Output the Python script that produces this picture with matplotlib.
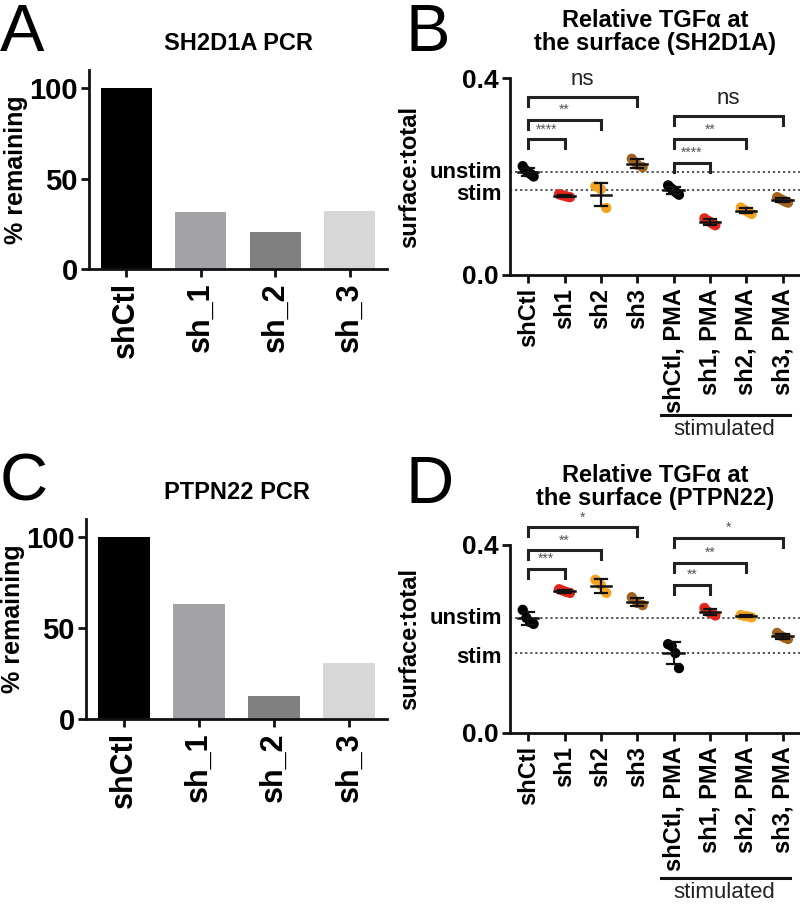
import matplotlib
matplotlib.use("Agg")
import matplotlib.pyplot as plt
import matplotlib.transforms as mtransforms
import numpy as np

plt.rcParams["font.family"] = ["Liberation Sans", "DejaVu Sans"]

W, H = 800, 907

# PCR knockdown (% remaining)
pcr_labels = ["shCtl", "sh_1", "sh_2", "sh_3"]
sh2d1a_pcr = [100, 31.5, 20.5, 32]
ptpn22_pcr = [100, 63, 12.5, 31]

# surface:total per condition, one list of replicate points per group
surface_labels = ["shCtl", "sh1", "sh2", "sh3",
                  "shCtl, PMA", "sh1, PMA", "sh2, PMA", "sh3, PMA"]
sh2d1a_surface = [
    [0.221, 0.214, 0.210, 0.207, 0.204, 0.200],
    [0.164, 0.162, 0.161, 0.159, 0.158],
    [0.180, 0.174, 0.136],
    [0.236, 0.224, 0.219],
    [0.182, 0.178, 0.175, 0.172, 0.169, 0.166, 0.163],
    [0.115, 0.111, 0.108, 0.104, 0.101],
    [0.137, 0.133, 0.130, 0.127, 0.124],
    [0.158, 0.155, 0.152, 0.149, 0.147],
]
ptpn22_surface = [
    [0.262, 0.245, 0.236, 0.232],
    [0.306, 0.303, 0.300, 0.298],
    [0.326, 0.315, 0.298],
    [0.289, 0.277, 0.272],
    [0.189, 0.185, 0.170, 0.138],
    [0.266, 0.258, 0.254, 0.250],
    [0.251, 0.249, 0.248, 0.246],
    [0.213, 0.207, 0.203, 0.200],
]

# comparisons: (group a, group b, bracket height, label)
sh2d1a_tests = [(0, 1, 0.276, "****"), (0, 2, 0.315, "**"), (0, 3, 0.362, "ns"),
                (4, 5, 0.228, "****"), (4, 6, 0.276, "**"), (4, 7, 0.323, "ns")]
ptpn22_tests = [(0, 1, 0.349, "***"), (0, 2, 0.389, "**"), (0, 3, 0.438, "*"),
                (4, 5, 0.315, "**"), (4, 6, 0.362, "**"), (4, 7, 0.415, "*")]

bar_colors = ["#000000", "#a3a3a7", "#808080", "#d7d7d7"]
dot_colors = ["#000000", "#e3261c", "#f4a321", "#a3621d"] * 2
LW = 2.0


def add_axes_px(fig, left, top, right, bottom):
    return fig.add_axes([left / W, 1 - bottom / H, (right - left) / W, (bottom - top) / H])


def style_axes(ax):
    for side in ["top", "right"]:
        ax.spines[side].set_visible(False)
    for side in ["left", "bottom"]:
        ax.spines[side].set_linewidth(LW)
        ax.spines[side].set_color("#111111")
    ax.tick_params(width=LW, length=6, color="#111111", labelsize=17)
    for lab in ax.get_xticklabels() + ax.get_yticklabels():
        lab.set_fontweight("bold")


def panel_letter(fig, xy, letter):
    fig.text(xy[0] / W, 1 - xy[1] / H, letter, fontsize=48, ha="left", va="baseline")


def pcr_panel(fig, box, values, title, letter, letter_xy, title_xy):
    ax = add_axes_px(fig, *box)
    x = np.arange(len(values))
    ax.bar(x, values, width=0.69, color=bar_colors)
    ax.set_xlim(-0.5, 3.5)
    ax.set_ylim(0, 110)
    ax.set_yticks([0, 50, 100])
    ax.set_xticks(x)
    ax.set_xticklabels(pcr_labels, rotation=90)
    style_axes(ax)
    ax.tick_params(axis="x", labelsize=22)
    ax.tick_params(axis="y", labelsize=21, pad=2)
    ax.set_ylabel("% remaining", fontsize=18, fontweight="bold", labelpad=1)
    panel_letter(fig, letter_xy, letter)
    fig.text(title_xy[0] / W, 1 - title_xy[1] / H, title, fontsize=17,
             fontweight="bold", ha="center", va="center")
    return ax


def surface_panel(fig, box, groups, tests, title, letter, letter_xy, title_xy, stim_y):
    ax = add_axes_px(fig, *box)
    means = [np.mean(g) for g in groups]
    sds = [np.std(g, ddof=1) for g in groups]
    unstim, stim = means[0], means[4]
    ax.axhline(unstim, color="#444444", lw=1.3, ls=(0, (1.2, 1.6)), zorder=1)
    ax.axhline(stim, color="#444444", lw=1.3, ls=(0, (1.2, 1.6)), zorder=1)
    for i, pts in enumerate(groups):
        n = len(pts)
        offs = np.linspace(-0.15, 0.15, n)
        ax.scatter(i + offs, pts, s=55, color=dot_colors[i], edgecolors="none",
                   zorder=2, clip_on=False)
        m, s = means[i], sds[i]
        ax.plot([i - 0.28, i + 0.28], [m, m], color="#111111", lw=1.8, zorder=3)
        ax.plot([i - 0.17, i + 0.17], [m + s, m + s], color="#111111", lw=1.6, zorder=3)
        ax.plot([i - 0.17, i + 0.17], [m - s, m - s], color="#111111", lw=1.6, zorder=3)
        ax.plot([i, i], [m - s, m + s], color="#111111", lw=1.6, zorder=3)
    leg = 0.019
    for a, b, yb, lab in tests:
        ax.plot([a, a, b, b], [yb - leg, yb, yb, yb - leg], color="#222222",
                lw=2.2, clip_on=False, solid_joinstyle="miter")
        if lab == "ns":
            ax.annotate(lab, ((a + b) / 2, yb), xytext=(0, 5), textcoords="offset points",
                        ha="center", va="bottom", fontsize=16, color="#222222",
                        annotation_clip=False)
        else:
            ax.annotate(lab, ((a + b) / 2, yb), xytext=(0, 2), textcoords="offset points",
                        ha="center", va="bottom", fontsize=10, color="#555555",
                        annotation_clip=False)
    ax.set_xlim(-0.5, 7.48)
    ax.set_ylim(0, 0.4)
    ax.set_yticks([0.0, 0.4])
    ax.set_yticklabels(["0.0", "0.4"])
    ax.set_yticks([unstim, stim], minor=True)
    ax.set_yticklabels(["unstim", "stim"], minor=True)
    ax.set_xticks(np.arange(len(groups)))
    ax.set_xticklabels(surface_labels, rotation=90)
    style_axes(ax)
    ax.tick_params(axis="y", which="major", labelsize=19, pad=2)
    ax.tick_params(axis="y", which="minor", length=0, labelsize=16, pad=6)
    minor_labs = ax.get_yticklabels(minor=True)
    nudges = [2, -2]
    for lab, dy in zip(minor_labs, nudges):
        lab.set_fontweight("bold")
        lab.set_transform(lab.get_transform() +
                          mtransforms.ScaledTranslation(0, dy / 100, fig.dpi_scale_trans))
    ax.set_ylabel("surface:total", fontsize=17, fontweight="bold", labelpad=6)
    # bracket under the stimulated conditions
    tr = mtransforms.blended_transform_factory(ax.transData, ax.transAxes)
    ax.plot([3.65, 7.2], [stim_y, stim_y], color="#111111", lw=2.2,
            transform=tr, clip_on=False)
    ax.text(5.4, stim_y - 0.02, "stimulated", transform=tr, ha="center", va="top",
            fontsize=16, color="#222222")
    panel_letter(fig, letter_xy, letter)
    fig.text(title_xy[0] / W, 1 - title_xy[1] / H, title, fontsize=17,
             fontweight="bold", ha="center", va="center", linespacing=1.05)
    return ax


fig = plt.figure(figsize=(8, 9.07), dpi=100)

pcr_panel(fig, (89, 70, 387, 269), sh2d1a_pcr, "SH2D1A PCR", "A", (0, 51), (238, 43))
pcr_panel(fig, (86, 519, 387, 719), ptpn22_pcr, "PTPN22 PCR", "C", (0, 500), (237, 493))
surface_panel(fig, (510, 78, 800, 275), sh2d1a_surface, sh2d1a_tests,
              "Relative TGF\u03b1 at\nthe surface (SH2D1A)", "B", (406, 51), (655, 32), -0.71)
surface_panel(fig, (510, 545, 800, 733), ptpn22_surface, ptpn22_tests,
              "Relative TGF\u03b1 at\nthe surface (PTPN22)", "D", (406, 503), (655, 487), -0.77)

fig.savefig("out.png", dpi=100)
